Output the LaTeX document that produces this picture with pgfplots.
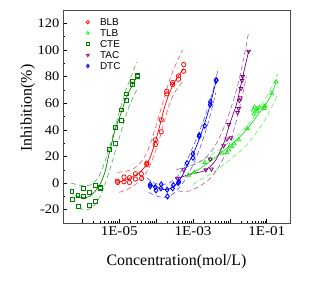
\documentclass[border=0pt]{standalone}
\usepackage{fontspec}
\setmainfont{Liberation Serif}
\newfontfamily\arialfont{Liberation Sans}
\newfontfamily\tickfont[FakeStretch=1.12]{Liberation Serif}
\usepackage{pgfplots}
\pgfplotsset{compat=1.18}
\usepackage{pgfplotstable}

\definecolor{cBLB}{RGB}{255,0,0}
\definecolor{cTLB}{RGB}{20,235,20}
\definecolor{cCTE}{RGB}{0,128,0}
\definecolor{cTAC}{RGB}{128,0,128}
\definecolor{cDTC}{RGB}{0,0,255}

% ---------- BLB ----------
\pgfplotstableread{
lx y
-5.05 1.5
-5.04 0.5
-4.87 4.5
-4.87 1
-4.72 4
-4.72 0.5
-4.56 7
-4.56 3
-4.40 7
-4.39 3.5
-4.25 15
-4.25 14
-4.02 32.5
-4.02 29
-3.86 47.5
-3.86 38.5
-3.71 69
-3.71 67
-3.55 74
-3.55 75.5
-3.39 80.5
-3.39 78
-3.25 89
-3.25 84
}\blbpts
\pgfplotstableread{
lx y
-5.05 0.5
-4.85 2
-4.65 4.5
-4.45 8
-4.28 13
-4.15 20
-4.02 31
-3.90 43
-3.78 56
-3.66 66
-3.52 75
-3.38 81
-3.25 86
}\blbfit
\pgfplotstableread{
lx y
-5.05 8
-4.80 9
-4.60 11
-4.40 16
-4.25 23
-4.10 34
-3.95 48
-3.80 62
-3.65 76
-3.50 87
-3.28 100
}\blbup
\pgfplotstableread{
lx y
-5.00 -7
-4.80 -5
-4.60 -2
-4.40 3
-4.22 10
-4.05 21
-3.90 34
-3.75 49
-3.60 62
-3.45 70
-3.25 77
}\blblo

% ---------- TLB ----------
\pgfplotstableread{
lx y
-3.12 6
-2.96 8
-2.68 15.5
-2.53 18
-2.21 22.5
-2.08 23
-2.03 25
-1.94 27.5
-1.88 29.5
-1.76 32.5
-1.52 41
-1.37 55
-1.35 52
-1.33 57
-1.26 54
-1.26 56
-1.19 57
-1.07 56
-1.07 57.5
-1.04 58
-0.86 67.5
-0.74 76
}\tlbpts
\pgfplotstableread{
lx y
-3.12 6
-2.80 11
-2.50 17
-2.20 23.5
-1.90 30.5
-1.70 35.5
-1.52 41
-1.30 49
-1.07 57.5
-0.90 65
-0.74 76
}\tlbfit
\pgfplotstableread{
lx y
-3.30 11
-3.00 14
-2.70 18
-2.40 23
-2.00 31
-1.70 38
-1.40 48
-1.10 61
-0.90 70
-0.70 82
}\tlbup
\pgfplotstableread{
lx y
-3.00 -1
-2.80 2.5
-2.50 7
-2.20 13
-1.80 22
-1.50 30
-1.20 41
-0.95 52
-0.70 67
}\tlblo

% ---------- CTE ----------
\pgfplotstableread{
lx y
-6.28 -6
-6.27 -12.5
-6.12 -9
-6.11 -17.5
-5.97 -4
-5.97 -10
-5.81 -7
-5.81 -17
-5.65 -2
-5.65 -14
-5.52 -3
-5.50 -4
-5.27 25.5
-5.11 30
-5.11 42
-4.95 47
-4.95 55
-4.81 62
-4.81 67
-4.65 74
-4.65 76.5
-4.51 80
-4.51 81
}\ctepts
\pgfplotstableread{
lx y
-6.19 -9.5
-5.97 -11
-5.80 -10
-5.65 -6
-5.52 -1
-5.38 8.7
-5.29 20
-5.20 30
-5.11 40
-4.95 52.5
-4.81 64
-4.65 73
-4.51 80.5
}\ctefit
\pgfplotstableread{
lx y
-6.30 0
-6.00 -2
-5.75 -1
-5.55 5
-5.40 15
-5.25 28
-5.10 43
-4.95 58
-4.80 71
-4.65 82
-4.52 91
}\cteup
\pgfplotstableread{
lx y
-6.10 -19
-5.85 -20
-5.65 -16
-5.50 -9
-5.35 2
-5.20 15
-5.05 29
-4.90 43
-4.75 56
-4.60 66
-4.48 72
}\ctelo

% ---------- TAC ----------
\pgfplotstableread{
lx y
-3.42 3.5
-3.25 10
-2.65 10
-2.50 10.5
-2.53 18
-2.17 28
-2.08 33
-1.97 34
-2.03 44
-1.79 53
-1.76 56
-1.74 62
-1.72 64
-1.70 71
-1.67 77
-1.65 80
-1.49 99
}\tacpts
\pgfplotstableread{
lx y
-3.42 3.5
-3.20 5.5
-2.95 7.5
-2.71 9
-2.53 12.5
-2.40 16.5
-2.31 21
-2.15 31
-2.03 42
-1.92 51
-1.81 60
-1.67 77.5
-1.49 99
}\tacfit
\pgfplotstableread{
lx y
-3.45 10
-3.20 12
-2.95 14
-2.70 18
-2.50 24
-2.30 33
-2.10 46
-1.95 58
-1.80 72
-1.65 90
-1.50 112
}\tacup
\pgfplotstableread{
lx y
-3.40 -6
-3.10 -6
-2.80 -2
-2.55 3
-2.35 10
-2.15 20
-1.98 32
-1.82 47
-1.68 63
-1.55 80
}\taclo

% ---------- DTC ----------
\pgfplotstableread{
lx y
-4.16 -1
-4.16 -2.5
-4.02 -3
-4.00 -5.5
-3.86 -1
-3.87 -4
-3.70 -5
-3.69 -10
-3.55 -4
-3.53 -1.5
-3.40 0
-3.38 1
-3.16 15
-3.00 19
-3.00 22
-2.83 35
-2.83 36
-2.68 43
-2.53 59
-2.53 61
-2.37 77
-2.37 77.5
}\dtcpts
\pgfplotstableread{
lx y
-4.18 -1
-4.00 -3
-3.85 -4.5
-3.70 -5
-3.55 -3
-3.40 0.5
-3.28 6
-3.16 13
-3.00 21.5
-2.83 33
-2.68 45
-2.53 59
-2.37 77
}\dtcfit
\pgfplotstableread{
lx y
-4.25 4
-4.05 0
-3.85 -1
-3.65 0
-3.45 4
-3.25 12
-3.05 24
-2.85 37
-2.65 52
-2.48 67
-2.33 84
}\dtcup
\pgfplotstableread{
lx y
-4.20 -7
-3.95 -10
-3.70 -11
-3.50 -7
-3.30 -1
-3.10 8
-2.90 20
-2.70 35
-2.52 52
-2.38 68
}\dtclo

\pgfplotsset{
  pts/.style={only marks, mark size=2.2pt, line width=0.75pt, mark options={solid, fill=none}},
  fitl/.style={forget plot, smooth, mark=none, line width=0.7pt},
  band/.style={forget plot, smooth, mark=none, line width=0.7pt, dash pattern=on 5pt off 3pt, opacity=0.6},
}

\begin{document}
\begin{tikzpicture}
\begin{axis}[
  scale only axis, width=227bp, height=213bp,
  xmode=log, xmin=3e-7, xmax=0.428, ymin=-30, ymax=130,
  xtick={1e-6,1e-5,1e-4,1e-3,1e-2,1e-1},
  xticklabels={,1E-05,,1E-03,,1E-01},
  ytick={-20,0,20,40,60,80,100,120}, minor y tick num=1,
  tick pos=left, tick align=inside,
  major tick length=4bp, minor tick length=2bp,
  axis line style={black!70, line width=0.8pt},
  tick style={black, line width=0.5pt},
  /pgf/number format/assume math mode=true,
  yticklabel style={font=\tickfont\fontsize{13}{13}\selectfont},
  xticklabel style={font=\tickfont\fontsize{13.5}{13.5}\selectfont},
  xlabel={Concentration(mol/L)}, ylabel={Inhibition(\%)},
  label style={font=\fontsize{16}{16}\selectfont},
  xlabel style={at={(axis description cs:0.5,-0.183)}, anchor=center},
  ylabel style={at={(axis description cs:-0.155,0.54)}, anchor=center},
  legend style={at={(axis description cs:0.088,0.979)}, anchor=north west, draw=none, fill=none,
     font=\arialfont\fontsize{10}{11}\selectfont, row sep=0pt, column sep=9bp,
     nodes={inner sep=1.5pt, text height=7.2pt, text depth=0.8pt}},
  legend image post style={mark size=1.7pt},
  legend cell align=left,
]
\addplot[pts, color=cBLB, mark=o] table[x expr={pow(10,\thisrow{lx})}, y=y] {\blbpts};
\addlegendentry{BLB}
\addplot[pts, color=cTLB, mark=triangle] table[x expr={pow(10,\thisrow{lx})}, y=y] {\tlbpts};
\addlegendentry{TLB}
\addplot[pts, color=cCTE, mark=square, mark size=1.9pt] table[x expr={pow(10,\thisrow{lx})}, y=y] {\ctepts};
\addlegendentry{CTE}
\addplot[pts, color=cTAC, mark=triangle, mark options={solid, fill=none, rotate=180}] table[x expr={pow(10,\thisrow{lx})}, y=y] {\tacpts};
\addlegendentry{TAC}
\addplot[pts, color=cDTC, mark=diamond, mark size=2.5pt, line width=0.9pt] table[x expr={pow(10,\thisrow{lx})}, y=y] {\dtcpts};
\addlegendentry{DTC}

\addplot[fitl, color=cBLB] table[x expr={pow(10,\thisrow{lx})}, y=y] {\blbfit};
\addplot[band, color=cBLB] table[x expr={pow(10,\thisrow{lx})}, y=y] {\blbup};
\addplot[band, color=cBLB] table[x expr={pow(10,\thisrow{lx})}, y=y] {\blblo};

\addplot[fitl, color=cTLB] table[x expr={pow(10,\thisrow{lx})}, y=y] {\tlbfit};
\addplot[band, color=cTLB] table[x expr={pow(10,\thisrow{lx})}, y=y] {\tlbup};
\addplot[band, color=cTLB] table[x expr={pow(10,\thisrow{lx})}, y=y] {\tlblo};

\addplot[fitl, color=cCTE] table[x expr={pow(10,\thisrow{lx})}, y=y] {\ctefit};
\addplot[band, color=cCTE] table[x expr={pow(10,\thisrow{lx})}, y=y] {\cteup};
\addplot[band, color=cCTE] table[x expr={pow(10,\thisrow{lx})}, y=y] {\ctelo};

\addplot[fitl, color=cTAC] table[x expr={pow(10,\thisrow{lx})}, y=y] {\tacfit};
\addplot[band, color=cTAC] table[x expr={pow(10,\thisrow{lx})}, y=y] {\tacup};
\addplot[band, color=cTAC] table[x expr={pow(10,\thisrow{lx})}, y=y] {\taclo};

\addplot[fitl, color=cDTC] table[x expr={pow(10,\thisrow{lx})}, y=y] {\dtcfit};
\addplot[band, color=cDTC] table[x expr={pow(10,\thisrow{lx})}, y=y] {\dtcup};
\addplot[band, color=cDTC] table[x expr={pow(10,\thisrow{lx})}, y=y] {\dtclo};
\end{axis}
\path (-63bp,-59bp) rectangle (250bp,223bp);
\end{tikzpicture}
\end{document}
